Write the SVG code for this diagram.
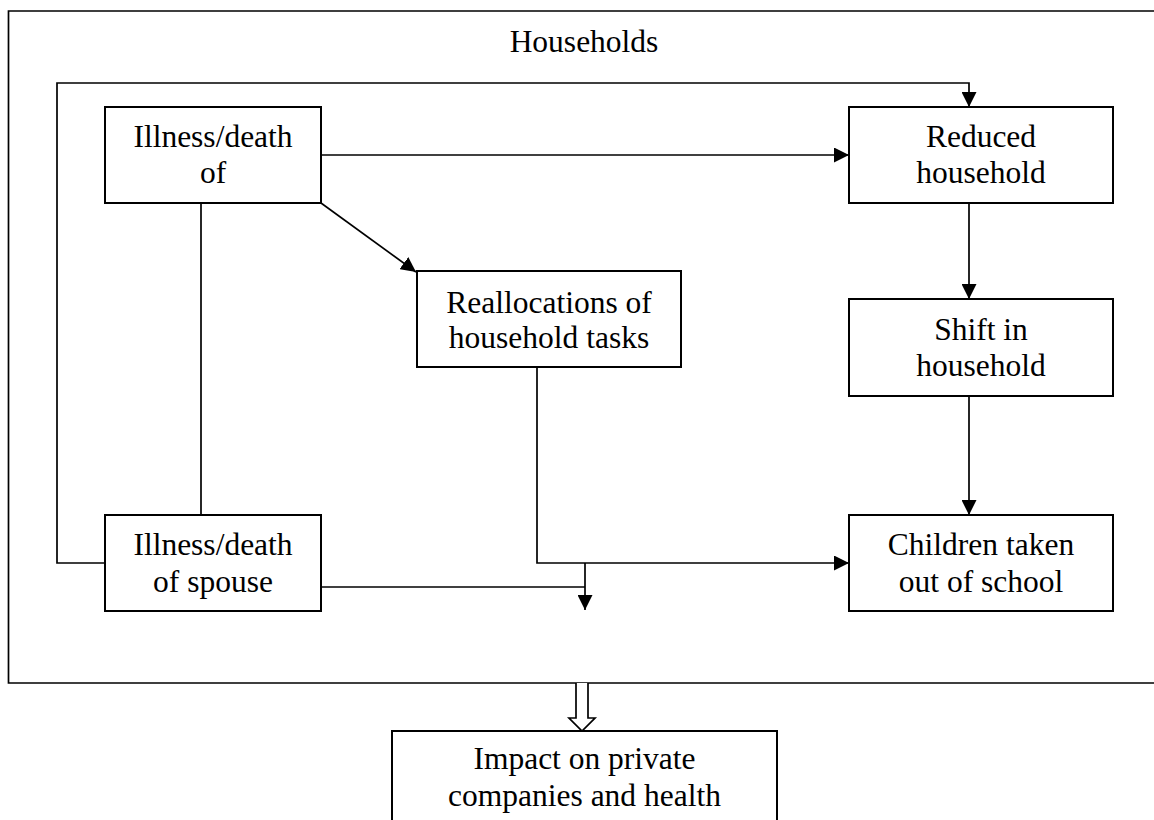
<svg xmlns="http://www.w3.org/2000/svg" width="1154" height="820" viewBox="0 0 1154 820">
<style>
.box{fill:#fff;stroke:#000;stroke-width:2}
.ln{fill:none;stroke:#000;stroke-width:1.7}
.lab{font-family:"Liberation Serif","Times New Roman",serif;font-size:31.5px;fill:#000;text-anchor:middle}
</style>
<defs>
<marker id="ah" markerUnits="userSpaceOnUse" markerWidth="15" markerHeight="15" refX="15" refY="7.5" orient="auto" viewBox="0 0 15 15">
<path d="M0,0 L15,7.5 L0,15 z" fill="#000"/>
</marker>
</defs>
<rect width="1154" height="820" fill="#fff"/>
<g id="households">
<path class="ln" d="M1160,11 H8.5 V683 H1160" stroke-width="2"/>
<text class="lab" x="584" y="52">Households</text>
</g>
<g id="connectors">
<path class="ln" d="M105,563 H57 V83 H969 V107" marker-end="url(#ah)"/>
<path class="ln" d="M321,155 H849" marker-end="url(#ah)"/>
<path class="ln" d="M321,203 L416,272" marker-end="url(#ah)"/>
<path class="ln" d="M201,203 V515"/>
<path class="ln" d="M969,203 V299" marker-end="url(#ah)"/>
<path class="ln" d="M969,396 V515" marker-end="url(#ah)"/>
<path class="ln" d="M537,367 V563 H849" marker-end="url(#ah)"/>
<path class="ln" d="M321,587 H585"/>
<path class="ln" d="M585,563 V610" marker-end="url(#ah)"/>
<path d="M576,683 V718 H569 L582,731 L595,718 H588 V683" fill="#fff" stroke="#000" stroke-width="1.7"/>
</g>
<g id="illness-death-of">
<rect class="box" x="105" y="107" width="216" height="96"/>
<text class="lab" x="213" y="147">Illness/death</text>
<text class="lab" x="213" y="183">of</text>
</g>
<g id="reduced-household">
<rect class="box" x="849" y="107" width="264" height="96"/>
<text class="lab" x="981" y="147">Reduced</text>
<text class="lab" x="981" y="183">household</text>
</g>
<g id="reallocations">
<rect class="box" x="417" y="271" width="264" height="96"/>
<text class="lab" x="549" y="313">Reallocations of</text>
<text class="lab" x="549" y="348">household tasks</text>
</g>
<g id="shift-in-household">
<rect class="box" x="849" y="299" width="264" height="97"/>
<text class="lab" x="981" y="340">Shift in</text>
<text class="lab" x="981" y="376">household</text>
</g>
<g id="illness-death-spouse">
<rect class="box" x="105" y="515" width="216" height="96"/>
<text class="lab" x="213" y="555">Illness/death</text>
<text class="lab" x="213" y="592">of spouse</text>
</g>
<g id="children-out-of-school">
<rect class="box" x="849" y="515" width="264" height="96"/>
<text class="lab" x="981" y="555">Children taken</text>
<text class="lab" x="981" y="592">out of school</text>
</g>
<g id="impact">
<rect class="box" x="392" y="731" width="385" height="120"/>
<text class="lab" x="584.5" y="769">Impact on private</text>
<text class="lab" x="584.5" y="806">companies and health</text>
</g>
</svg>
